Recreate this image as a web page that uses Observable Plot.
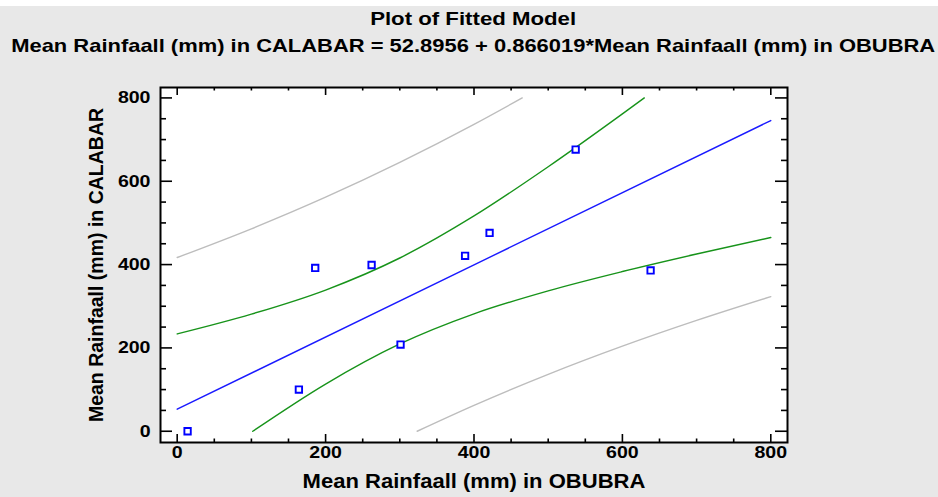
<!DOCTYPE html>
<html>
<head>
<meta charset="utf-8">
<script src="https://cdn.jsdelivr.net/npm/d3@7"></script>
<script src="https://cdn.jsdelivr.net/npm/@observablehq/plot@0.6"></script>
<style>
  html, body { margin: 0; padding: 0; background: #ffffff; width: 938px; height: 497px; overflow: hidden; }
  #page { position: absolute; left: 0; top: 6px; width: 938px; height: 491px; background: #e8e8e8; }
  .t { position: absolute; left: 0; width: 946px; text-align: center; font-family: "Liberation Sans", Arial, sans-serif;
       font-weight: bold; font-size: 19px; line-height: 19px; color: #000; white-space: nowrap; }
  .t span { display: inline-block; transform-origin: center; }
  #chart { position: absolute; left: 0; top: 57px; }
  #chart svg text { font-weight: bold; }
</style>
</head>
<body>
<div id="page"></div>
<div class="t" id="t1" style="top:9px"><span></span></div>
<div class="t" id="t2" style="top:36px"><span></span></div>
<div id="chart"></div>
<script>
// ---- text ----
const titleLines = ["Plot of Fitted Model",
  "Mean Rainfaall (mm) in CALABAR = 52.8956 + 0.866019*Mean Rainfaall (mm) in OBUBRA"];
const xLabel = ["Mean Rainfaall (mm) in OBUBRA"];
const yLabel = ["Mean Rainfaall (mm) in CALABAR"];

// ---- observations ----
const obubra  = [14, 164, 186, 262, 301, 388, 421, 537, 638];
const calabar = [0, 100, 392, 399, 208, 421, 476, 676, 386];

// ---- fitted line ----
const fitX = [0, 800];
const fitY = [52.9, 745.7];

// ---- confidence limits (green) ----
const upperCIX = [0, 100, 200, 300, 400, 500, 600, 629.5];
const upperCIY = [233.6, 281.1, 338.9, 415.8, 516.7, 634.8, 761.7, 800];
const lowerCIX = [101.8, 200, 300, 400, 500, 600, 700, 800];
const lowerCIY = [0, 113.3, 209.6, 281.9, 337, 383.3, 425.3, 465];

// ---- prediction limits (gray) ----
const upperPIX = [0, 100, 200, 300, 400, 465];
const upperPIY = [417, 485.9, 561.7, 645.2, 736.5, 800];
const lowerPIX = [323.4, 400, 500, 600, 700, 800];
const lowerPIY = [0, 62.1, 136.5, 204.1, 265.9, 323];

// ---- ticks ----
const xMajor = [0, 200, 400, 600, 800];
const xMinor = [50, 100, 150, 250, 300, 350, 450, 500, 550, 650, 700, 750];
const yMajor = [0, 200, 400, 600, 800];
const yMinor = [50, 100, 150, 250, 300, 350, 450, 500, 550, 650, 700, 750];

// titles, stretched horizontally to the reference's widths
const titleWidths = [206, 924];
["t1", "t2"].forEach((id, i) => {
  const s = document.querySelector("#" + id + " span");
  s.textContent = titleLines[i];
  const w = s.getBoundingClientRect().width;
  s.style.transform = `scaleX(${titleWidths[i] / w})`;
});

const pts = (xs, ys) => xs.map((x, i) => ({x, y: ys[i]}));
const obs = pts(obubra, calabar);

const W = 938, H = 440;
const mL = 160, mR = 151, mT = 30, mB = 55;
const innerW = W - mL - mR, innerH = H - mT - mB;

const lineOpts = (stroke) => ({x: "x", y: "y", stroke, strokeWidth: 1.4, curve: "monotone-x"});

const chart = Plot.plot({
  width: W, height: H,
  marginLeft: mL, marginRight: mR, marginTop: mT, marginBottom: mB,
  x: {domain: [-22.5, 822.5]},
  y: {domain: [-27, 825]},
  style: {background: "transparent", fontFamily: "Liberation Sans, Arial, sans-serif", fontSize: "17px", color: "#000", overflow: "visible"},
  marks: [
    Plot.frame({fill: "white", stroke: null}),
    Plot.line(pts(upperPIX, upperPIY), lineOpts("#bdbdbd")),
    Plot.line(pts(lowerPIX, lowerPIY), lineOpts("#bdbdbd")),
    Plot.line(pts(upperCIX, upperCIY), lineOpts("#17931a")),
    Plot.line(pts(lowerCIX, lowerCIY), lineOpts("#17931a")),
    Plot.line(pts(fitX, fitY), lineOpts("#1a1aff")),
    Plot.dot(obs, {x: "x", y: "y", symbol: "square", r: 3.6, stroke: "#0000ff", fill: "white", strokeWidth: 1.9}),
    // inward ticks
    Plot.ruleX(xMajor, {stroke: "#000", strokeWidth: 1.6, insetTop: innerH - 8}),
    Plot.ruleX(xMinor, {stroke: "#000", strokeWidth: 1.6, insetTop: innerH - 3.5}),
    Plot.ruleX(xMajor, {stroke: "#000", strokeWidth: 1.6, insetBottom: innerH - 8}),
    Plot.ruleX(xMinor, {stroke: "#000", strokeWidth: 1.6, insetBottom: innerH - 3.5}),
    Plot.ruleY(yMajor, {stroke: "#000", strokeWidth: 1.6, insetRight: innerW - 12}),
    Plot.ruleY(yMinor, {stroke: "#000", strokeWidth: 1.6, insetRight: innerW - 6}),
    Plot.ruleY(yMajor, {stroke: "#000", strokeWidth: 1.6, insetLeft: innerW - 12}),
    Plot.ruleY(yMinor, {stroke: "#000", strokeWidth: 1.6, insetLeft: innerW - 6}),
    Plot.axisX({ticks: xMajor, tickSize: 0, tickPadding: 3, label: null, fontSize: 17}),
    Plot.axisY({ticks: yMajor, tickSize: 0, tickPadding: 10, label: null, fontSize: 17}),
    Plot.text(xLabel, {text: d => d, frameAnchor: "bottom", dy: 45, fontSize: 19.5, fontWeight: "bold", fill: "#000", className: "xlab"}),
    Plot.text(yLabel, {text: d => d, frameAnchor: "left", textAnchor: "middle", dx: -64, rotate: -90, fontSize: 19.5, fontWeight: "bold", fill: "#000"}),
    Plot.frame({stroke: "#000", strokeWidth: 2})
  ]
});
document.getElementById("chart").appendChild(chart);

// horizontal stretch of tick labels and x label, as in the reference rendering
function stretch(sel, k) {
  chart.querySelectorAll(sel).forEach(t => {
    const L = t.getComputedTextLength();
    t.setAttribute("textLength", L * k);
    t.setAttribute("lengthAdjust", "spacingAndGlyphs");
  });
}
stretch('g[aria-label="x-axis tick label"] text', 1.15);
stretch('g[aria-label="y-axis tick label"] text', 1.15);
stretch('.xlab text', 1.13);
</script>
</body>
</html>
